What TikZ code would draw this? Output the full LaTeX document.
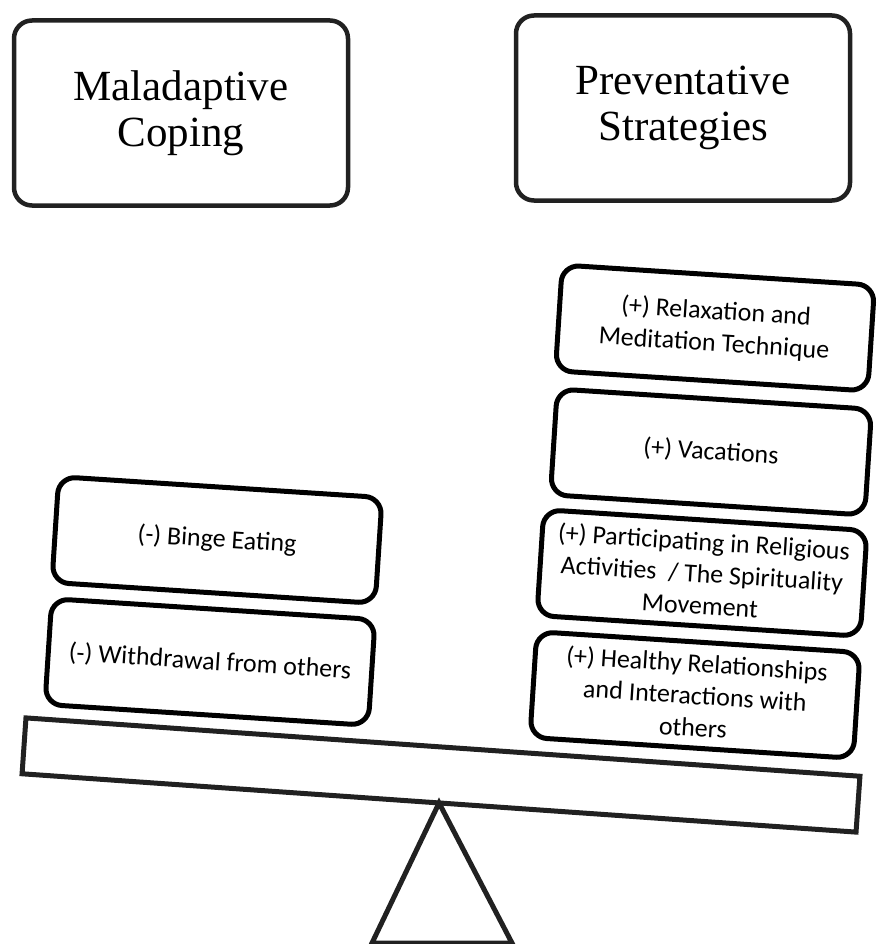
\documentclass[tikz,border=0pt]{standalone}
\usepackage{fontspec}
\setmainfont{Liberation Serif}
\newfontfamily\calibri{Carlito}
\usepackage{tikz}
\usepackage{xcolor}
\definecolor{rimgray}{rgb}{0.13,0.13,0.13}

\begin{document}
\begin{tikzpicture}[x=1pt,y=-1pt]
  \def\tilt{-3.7}
  \tikzset{heading/.style={draw=rimgray,line width=4.5pt,rounded corners=18pt,minimum width=334pt,minimum height=185pt,align=center,font=\fontsize{43}{46}\selectfont}}
  \tikzset{factor/.style={draw,line width=5pt,rounded corners=17pt,minimum width=324pt,minimum height=106pt,inner sep=0pt,align=center,rotate=\tilt,font=\calibri\fontsize{26}{32}\selectfont}}
  \tikzset{support/.style={draw=rimgray,line width=5pt}}
  \useasboundingbox (0,0) rectangle (879,944);
  \node[heading] (coping) at (181,113) {Maladaptive\\Coping};
  \node[heading] (prevent) at (683,108) {Preventative\\Strategies};
  \node[factor] (binge) at (217,540) {(-) Binge Eating};
  \node[factor] (withdraw) at (210,662) {(-) Withdrawal from others};
  \node[factor,minimum width=313pt] (relax) at (715,328) {(+) Relaxation and\\Meditation Technique};
  \node[factor,minimum width=315pt] (vacation) at (711,452) {(+) Vacations};
  \node[factor] (religion) at (702,573) {(+) Participating in Religious\\Activities\ \ / The Spirituality\\Movement};
  \node[factor] (relation) at (695,695) {(+) Healthy Relationships\\and Interactions with\\others};
  \node[support,minimum width=836pt,minimum height=56pt,inner sep=0pt,outer sep=0pt,rotate=-4] (beam) at (441,775) {};
  \coordinate (lfoot) at (372,943);
  \coordinate (rfoot) at (512,943);
  \draw[support] (beam.south) -- (lfoot) -- (rfoot) -- cycle;
\end{tikzpicture}
\end{document}
